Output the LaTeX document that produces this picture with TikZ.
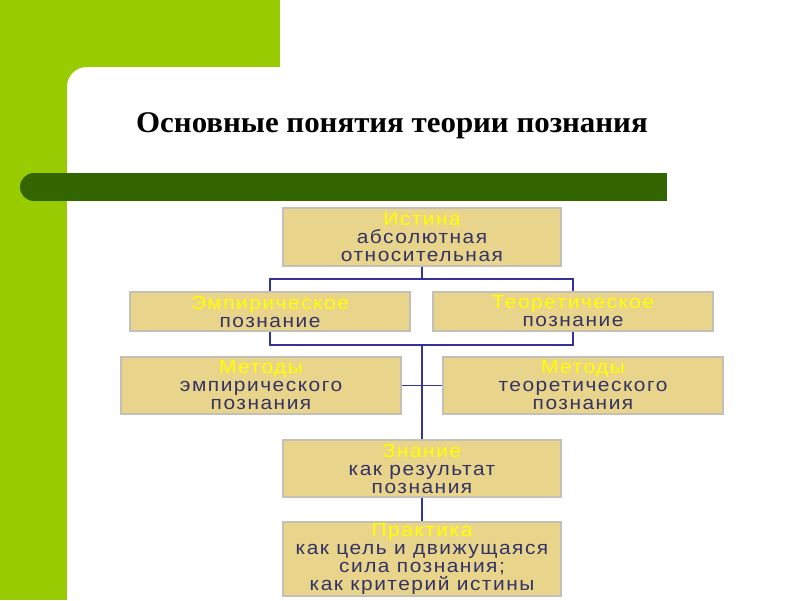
\documentclass[tikz,border=0pt]{standalone}
\usepackage{fontspec}
\newfontfamily\boxfont[FakeStretch=1.1,LetterSpace=8]{Liberation Sans}
\newfontfamily\titlefont[FakeStretch=1.03]{Liberation Serif}
\definecolor{lgreen}{HTML}{99CC00}
\definecolor{dgreen}{HTML}{336600}
\definecolor{boxfill}{HTML}{E8D48A}
\definecolor{boxline}{HTML}{C4C0B8}
\definecolor{navy}{HTML}{333366}
\definecolor{conncol}{HTML}{333399}
\definecolor{ytext}{HTML}{FFFF00}
\tikzset{
  cbox/.style={draw=boxline, line width=2pt, fill=boxfill, inner sep=0pt,
    align=center, text=navy, font=\boxfont\fontsize{19}{18}\selectfont},
  conn/.style={draw=conncol, line width=1.2pt}
}
\newcommand{\yl}[1]{\textcolor{ytext}{#1}}
\begin{document}
\begin{tikzpicture}[x=1pt,y=-1pt]
\useasboundingbox (0,0) rectangle (800,600);
\begin{scope}
\clip (0,0) rectangle (800,600);
\fill[white] (0,0) rectangle (800,600);
\fill[lgreen] (0,0) rectangle (280,67);
\fill[lgreen] (0,0) rectangle (67,600);
\fill[lgreen] (66,66) rectangle (100,100);
\fill[white, rounded corners=20pt] (67,67) rectangle (900,700);
\end{scope}
% dark bar
\fill[dgreen] (34,173) rectangle (667,201);
\fill[dgreen] (34,187) circle (14);
% title
\node[font=\titlefont\bfseries\fontsize{30}{32}\selectfont] (title) at (392,126) {Основные понятия теории познания};
% boxes
\node[cbox, minimum width=278, minimum height=58] (ist) at (422,237) {\yl{Истина}\\абсолютная\\относительная};
\node[cbox, minimum width=280, minimum height=39] (emp) at (270,311.5) {\yl{Эмпирическое}\\познание};
\node[cbox, minimum width=280, minimum height=39] (teo) at (573,311.5) {\yl{Теоретическое}\\познание};
\node[cbox, minimum width=280, minimum height=57] (me) at (261,385.5) {\yl{Методы}\\эмпирического\\познания};
\node[cbox, minimum width=280, minimum height=57] (mt) at (583,385.5) {\yl{Методы}\\теоретического\\познания};
\node[cbox, minimum width=278, minimum height=57] (zn) at (422,468.5) {\yl{Знание}\\как результат\\познания};
\node[cbox, minimum width=278, minimum height=74] (pr) at (422,559) {\yl{Практика}\\как цель и движущаяся\\сила познания;\\как критерий истины};
% junctions
\coordinate (j1) at (422,279);
\coordinate (j2) at (422,345);
\draw[conn] (ist.south) -- (j1);
\draw[conn] (emp.north) |- (j1) -| (teo.north);
\draw[conn] (emp.south) |- (j2) -| (teo.south);
\draw[conn] (j2) -- (zn.north);
\draw[conn] (me.east) -- (mt.west);
\draw[conn] (zn.south) -- (pr.north);
\end{tikzpicture}
\end{document}
